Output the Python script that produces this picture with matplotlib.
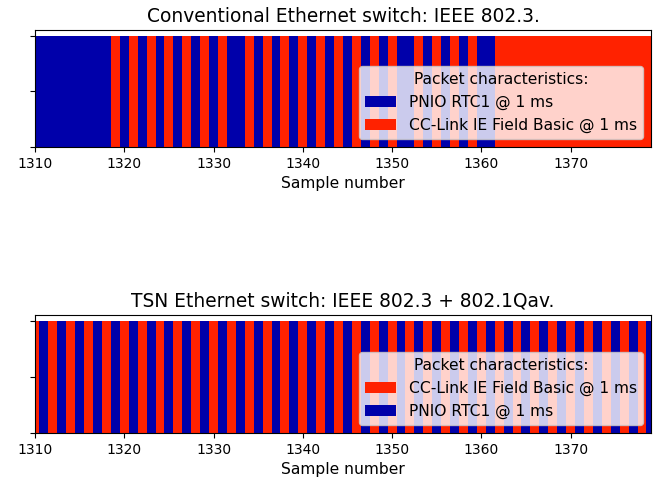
import matplotlib
matplotlib.use("Agg")
import matplotlib.pyplot as plt

# sample numbers shown on both charts
samples = list(range(1310, 1380))

# packet seen at each sample: P = PNIO RTC1, C = CC-Link IE Field Basic
conventional_seq = ("PPPPPPPPPC" "PCPCPCPCPC" "PCPPCPCPCP" "CPCPCPCPCP"
                    "CPPCPCPCPC" "PPCCCCCCCC" "CCCCCCCCCC")
tsn_seq = ("CPCPCPCPCP" "CPCPCPCPCP" "CPCPCPCPCP" "CPCPCPCPCP"
           "CPCPCPCPCP" "CPCPCPCPCP" "CPCPCPCPCP")

labels = {"P": "PNIO RTC1 @ 1 ms", "C": "CC-Link IE Field Basic @ 1 ms"}
colors = {"P": "#0000aa", "C": "#ff2200"}

titles = ["Conventional Ethernet switch: IEEE 802.3.",
          "TSN Ethernet switch: IEEE 802.3 + 802.1Qav."]
legend_orders = [["P", "C"], ["C", "P"]]
xticks = [1310, 1320, 1330, 1340, 1350, 1360, 1370]


def draw_chart(ax, seq, title, order):
    for code in order:
        xs = [s for s, c in zip(samples, seq) if c == code]
        ax.bar(xs, [1] * len(xs), width=1.0, color=colors[code],
               linewidth=0, antialiased=False, label=labels[code])
    ax.set_xlim(1310, 1379)
    ax.set_ylim(0, 1.05)
    ax.set_yticks([0, 0.5, 1])
    ax.set_yticklabels([])
    ax.set_xticks(xticks)
    ax.tick_params(labelsize=10)
    ax.set_xlabel("Sample number", fontsize=11.2)
    ax.set_title(title, fontsize=13.4)
    ax.legend(loc="lower right", title="Packet characteristics:",
              fontsize=11.2, title_fontsize=11.2)


fig = plt.figure(figsize=(6.68, 4.83), dpi=100)
ax1 = fig.add_axes([0.0524, 0.6957, 0.922, 0.2422])
ax2 = fig.add_axes([0.0524, 0.1035, 0.922, 0.2443])

draw_chart(ax1, conventional_seq, titles[0], legend_orders[0])
draw_chart(ax2, tsn_seq, titles[1], legend_orders[1])

fig.savefig("out.png", dpi=100)
